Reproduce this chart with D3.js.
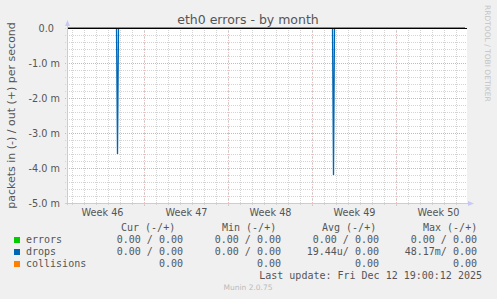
<!DOCTYPE html>
<html>
<head>
<meta charset="utf-8">
<script src="https://cdn.jsdelivr.net/npm/d3@7"></script>
<style>
  html, body { margin: 0; padding: 0; background: #f0f0f0; }
  svg { display: block; }
</style>
</head>
<body>
<div id="svg-container"></div>
<script>
const width = 497
const height = 299

const title = 'eth0 errors - by month'
const yLabel = 'packets in (-) / out (+) per second'
const watermark = 'RRDTOOL / TOBI OETIKER'
const footer = 'Munin 2.0.75'
const lastUpdate = 'Last update: Fri Dec 12 19:00:12 2025'

const timeDomain = ['2025-11-10T14:00:00Z', '2025-12-13T18:00:00Z']

const weekStarts = ['2025-11-10', '2025-11-17', '2025-11-24', '2025-12-01', '2025-12-08']
const weekLabels = ['Week 46', 'Week 47', 'Week 48', 'Week 49', 'Week 50']

const yTicks = [0, -0.001, -0.002, -0.003, -0.004, -0.005]

const seriesNames = ['errors', 'drops', 'collisions']
const seriesColors = ['#00cc00', '#0066b3', '#ff8000']

// 2 hour samples, "in" direction drawn negative
const errorTimes = ['2025-11-10T14:00:00Z', '2025-12-13T18:00:00Z']
const errorValues = [0, 0]
const dropTimes = [
  '2025-11-10T14:00:00Z',
  '2025-11-14T17:00:00Z', '2025-11-14T19:00:00Z', '2025-11-14T21:00:00Z',
  '2025-12-02T17:00:00Z', '2025-12-02T19:00:00Z', '2025-12-02T21:00:00Z',
  '2025-12-13T18:00:00Z',
]
const dropValues = [0, 0, -0.0036, 0, 0, -0.0042, 0, 0]
const collisionTimes = ['2025-11-10T14:00:00Z', '2025-12-13T18:00:00Z']
const collisionValues = [0, 0]

const legendHeads = ['Cur (-/+)', 'Min (-/+)', 'Avg (-/+)', 'Max (-/+)']
const legendCur = ['0.00 / 0.00', '0.00 / 0.00', '0.00']
const legendMin = ['0.00 / 0.00', '0.00 / 0.00', '0.00']
const legendAvg = ['0.00 / 0.00', '19.44u/ 0.00', '0.00']
const legendMax = ['0.00 / 0.00', '48.17m/ 0.00', '0.00']

const plot = { left: 67, right: 465, top: 28, bottom: 203 }
const sans = 'DejaVu Sans, sans-serif'
const mono = 'DejaVu Sans Mono, monospace'

const svg = d3.select('#svg-container').append('svg')
  .attr('width', width)
  .attr('height', height)

svg.append('rect')
  .attr('width', width).attr('height', height)
  .attr('fill', '#f0f0f0')

const x = d3.scaleUtc()
  .domain(timeDomain.map(d => new Date(d)))
  .range([plot.left, plot.right])

const y = d3.scaleLinear()
  .domain([-0.005, 0])
  .range([plot.bottom, plot.top])

// canvas
svg.append('rect')
  .attr('x', plot.left).attr('y', plot.top)
  .attr('width', plot.right + 2 - plot.left)
  .attr('height', plot.bottom - plot.top)
  .attr('fill', '#ffffff')

const grid = svg.append('g').attr('shape-rendering', 'crispEdges')

// minor grid
grid.selectAll('.hmin')
  .data(y.ticks(25))
  .join('line')
  .attr('x1', plot.left - 2).attr('x2', plot.right + 2)
  .attr('y1', d => Math.round(y(d)) + 0.5).attr('y2', d => Math.round(y(d)) + 0.5)
  .attr('stroke', '#d4d4d4')
  .attr('stroke-dasharray', '1,1')

grid.selectAll('.vmin')
  .data(x.ticks(d3.utcDay))
  .join('line')
  .attr('x1', d => Math.round(x(d)) + 0.5).attr('x2', d => Math.round(x(d)) + 0.5)
  .attr('y1', plot.top).attr('y2', plot.bottom + 2)
  .attr('stroke', '#d4d4d4')
  .attr('stroke-dasharray', '1,1')

// major grid
grid.selectAll('.hmaj')
  .data(yTicks.slice(1, -1))
  .join('line')
  .attr('x1', plot.left - 2).attr('x2', plot.right + 2)
  .attr('y1', d => Math.round(y(d)) + 0.5).attr('y2', d => Math.round(y(d)) + 0.5)
  .attr('stroke', '#f0a8a8')
  .attr('stroke-dasharray', '1,1')

grid.selectAll('.vmaj')
  .data(weekStarts.map(d => new Date(d + 'T00:00:00Z')).filter(d => x(d) > plot.left))
  .join('line')
  .attr('x1', d => Math.round(x(d)) + 0.5).attr('x2', d => Math.round(x(d)) + 0.5)
  .attr('y1', plot.top).attr('y2', plot.bottom + 3)
  .attr('stroke', '#f2b8b8')
  .attr('stroke-dasharray', '1,2')

// y axis labels
const yAxis = svg.append('g')
  .attr('transform', `translate(${plot.left - 7},0)`)
  .call(d3.axisLeft(y)
    .tickValues(yTicks)
    .tickSize(0)
    .tickPadding(0)
    .tickFormat(d => d === 0 ? '0.0' : (d * 1000).toFixed(1) + ' m'))
yAxis.select('.domain').remove()
yAxis.selectAll('text')
  .attr('font-family', sans)
  .attr('font-size', 9.7)
  .attr('fill', '#555')
  .attr('dx', d => d === 0 ? -6 : 0)

// x axis labels
const xAxis = svg.append('g')
  .attr('transform', `translate(0,${plot.bottom})`)
  .call(d3.axisBottom(x)
    .tickValues(weekStarts.map(d => d3.utcHour.offset(new Date(d + 'T00:00:00Z'), 84)))
    .tickSize(0)
    .tickPadding(6)
    .tickFormat((d, i) => weekLabels[i]))
xAxis.select('.domain').remove()
xAxis.selectAll('text')
  .attr('font-family', sans)
  .attr('font-size', 9.7)
  .attr('fill', '#555')

// series
const line = d3.line()
  .x(d => x(d[0]))
  .y(d => y(d[1]))

const seriesData = [
  d3.zip(errorTimes.map(d => new Date(d)), errorValues),
  d3.zip(dropTimes.map(d => new Date(d)), dropValues),
  d3.zip(collisionTimes.map(d => new Date(d)), collisionValues),
]

svg.append('g')
  .selectAll('path')
  .data(seriesData)
  .join('path')
  .attr('d', line)
  .attr('fill', 'none')
  .attr('stroke', (d, i) => seriesColors[i])
  .attr('stroke-width', 1.3)

// zero line
svg.append('line')
  .attr('x1', plot.left).attr('x2', plot.right + 2)
  .attr('y1', y(0) + 0.5).attr('y2', y(0) + 0.5)
  .attr('stroke', '#000')
  .attr('shape-rendering', 'crispEdges')

// axes with arrows
const axisColor = '#c8c8f4'
svg.append('line')
  .attr('x1', plot.left + 0.5).attr('x2', plot.left + 0.5)
  .attr('y1', 24).attr('y2', plot.bottom + 2)
  .attr('stroke', axisColor)
  .attr('shape-rendering', 'crispEdges')
svg.append('path')
  .attr('d', `M${plot.left - 2},${26} L${plot.left + 0.5},${20} L${plot.left + 3},${26} Z`)
  .attr('fill', axisColor)
svg.append('line')
  .attr('x1', plot.left - 2).attr('x2', plot.right + 4)
  .attr('y1', plot.bottom + 0.5).attr('y2', plot.bottom + 0.5)
  .attr('stroke', axisColor)
  .attr('shape-rendering', 'crispEdges')
svg.append('path')
  .attr('d', `M${plot.right + 3},${plot.bottom - 2} L${plot.right + 9},${plot.bottom + 0.5} L${plot.right + 3},${plot.bottom + 3} Z`)
  .attr('fill', axisColor)

// title and labels
svg.append('text')
  .attr('x', 248).attr('y', 24)
  .attr('text-anchor', 'middle')
  .attr('font-family', sans)
  .attr('font-size', 12.5)
  .attr('fill', '#555')
  .text(title)

svg.append('text')
  .attr('transform', `translate(15,${(plot.top + plot.bottom) / 2}) rotate(-90)`)
  .attr('text-anchor', 'middle')
  .attr('font-family', sans)
  .attr('font-size', 11)
  .attr('fill', '#555')
  .text(yLabel)

svg.append('text')
  .attr('transform', 'translate(485,5) rotate(90)')
  .attr('font-family', sans)
  .attr('font-size', 7.5)
  .attr('fill', '#c4c4c4')
  .text(watermark)

// legend
const legend = svg.append('g')
  .attr('font-family', mono)
  .attr('font-size', 10)
  .attr('fill', '#555')

const headX = [121, 222, 322, 423]
const colEnd = [183, 281, 379, 477]

legend.selectAll('.head')
  .data(legendHeads)
  .join('text')
  .attr('x', (d, i) => headX[i])
  .attr('y', 231)
  .text(d => d)

const rowY = i => 243 + i * 12

legend.selectAll('rect')
  .data(seriesNames)
  .join('rect')
  .attr('x', 14).attr('y', (d, i) => rowY(i) - 6)
  .attr('width', 6).attr('height', 6)
  .attr('fill', (d, i) => seriesColors[i])

legend.selectAll('.name')
  .data(seriesNames)
  .join('text')
  .attr('x', 26).attr('y', (d, i) => rowY(i))
  .text(d => d)

const columns = [legendCur, legendMin, legendAvg, legendMax]
columns.forEach((col, c) => {
  legend.append('g')
    .selectAll('text')
    .data(col)
    .join('text')
    .attr('x', colEnd[c])
    .attr('y', (d, i) => rowY(i))
    .attr('text-anchor', 'end')
    .text(d => d)
})

legend.append('text')
  .attr('x', 482).attr('y', 279)
  .attr('text-anchor', 'end')
  .text(lastUpdate)

svg.append('text')
  .attr('x', 248).attr('y', 290)
  .attr('text-anchor', 'middle')
  .attr('font-family', sans)
  .attr('font-size', 7.5)
  .attr('fill', '#bbb')
  .text(footer)
</script>
</body>
</html>
